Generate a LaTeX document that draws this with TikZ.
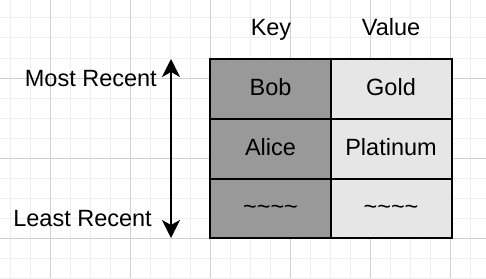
\documentclass[tikz,border=0pt]{standalone}
\usepackage{fontspec}
\setmainfont{Liberation Sans}
\usetikzlibrary{arrows.meta}
\definecolor{gridminor}{HTML}{EEEEEE}
\definecolor{gridmajor}{HTML}{D0D0D0}
\definecolor{keyfill}{HTML}{999999}
\definecolor{valfill}{HTML}{E6E6E6}
\tikzset{
  cell/.style={draw=black, line width=2pt, minimum width=121pt, minimum height=60pt,
    inner sep=0pt, text height=16pt, text depth=4pt, anchor=center},
  keycell/.style={cell, fill=keyfill},
  valcell/.style={cell, fill=valfill},
  lbl/.style={inner sep=0pt, font=\fontsize{23.5}{28}\selectfont},
  bigarrow/.style={line width=2pt, {Stealth[length=18pt,width=18pt,inset=5pt]}-{Stealth[length=18pt,width=18pt,inset=5pt]}}
}
\begin{document}
\begin{tikzpicture}[x=1pt,y=-1pt]
\useasboundingbox (0,0) rectangle (486,278);
\fill[white] (0,0) rectangle (486,278);
% grid
\foreach \x in {10,30,...,470} \draw[gridminor, line width=1pt] (\x,0) -- (\x,278);
\foreach \y in {-2,18,...,278} \draw[gridminor, line width=1pt] (0,\y) -- (486,\y);
\foreach \x in {50,130,...,450} \draw[gridmajor, line width=1pt] (\x,0) -- (\x,278);
\foreach \y in {78,158,238} \draw[gridmajor, line width=1pt] (0,\y) -- (486,\y);
% headers
\node[lbl, anchor=base] (hkey) at (271,35) {Key};
\node[lbl, anchor=base] (hval) at (391,35) {Value};
% table
\node[keycell, lbl, text height=16pt, text depth=4pt, minimum width=121pt, minimum height=60pt] (k1) at (270.5,89) {Bob};
\node[valcell, lbl, text height=16pt, text depth=4pt, minimum width=121pt, minimum height=60pt] (v1) at (391,89) {Gold};
\node[keycell, lbl, text height=16pt, text depth=4pt, minimum width=121pt, minimum height=60pt] (k2) at (270.5,149) {Alice};
\node[valcell, lbl, text height=16pt, text depth=4pt, minimum width=121pt, minimum height=60pt] (v2) at (391,149) {Platinum};
\node[keycell, lbl, text height=16pt, text depth=4pt, minimum width=121pt, minimum height=59pt] (k3) at (270.5,208.5) {\textasciitilde\textasciitilde\textasciitilde\textasciitilde};
\node[valcell, lbl, text height=16pt, text depth=4pt, minimum width=121pt, minimum height=59pt] (v3) at (391,208.5) {\textasciitilde\textasciitilde\textasciitilde\textasciitilde};
% arrow
\coordinate (top) at (171,59);
\coordinate (bot) at (171,238);
\draw[bigarrow] (top) -- (bot);
% side labels
\node[lbl, anchor=base east] (most) at (157,86) {Most Recent};
\node[lbl, anchor=base east] (least) at (152,226.3) {Least Recent};
\end{tikzpicture}
\end{document}
